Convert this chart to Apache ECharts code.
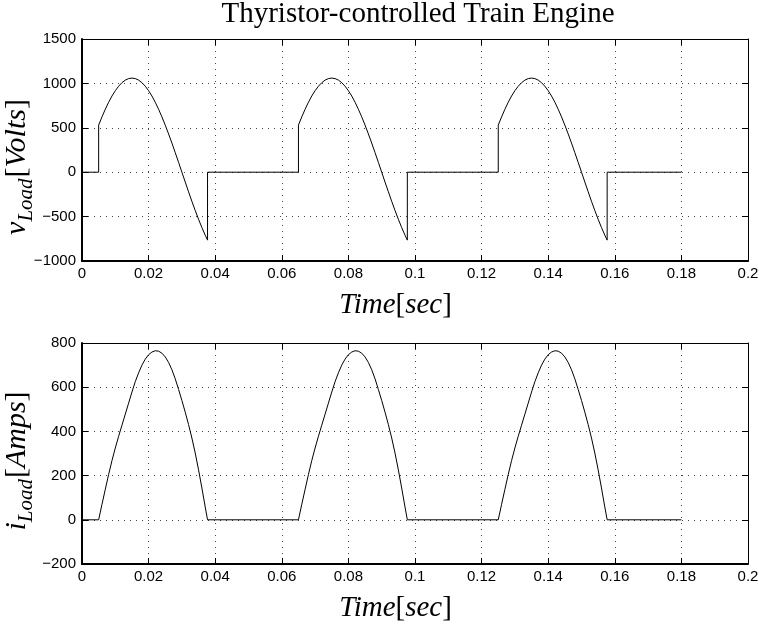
<!DOCTYPE html>
<html>
<head>
<meta charset="utf-8">
<script src="https://cdn.jsdelivr.net/npm/echarts@6/dist/echarts.min.js"></script>
<style>
  html, body { margin: 0; padding: 0; background: #fff; }
  #chart { width: 759px; height: 624px; }
</style>
</head>
<body>
<div id="chart"></div>
<script>
// Load voltage samples (time in seconds, volts); repeated time = thyristor switching edge
const vTime = [
  0, 0.005, 0.005, 0.006, 0.007, 0.008, 0.009, 0.010, 0.011, 0.012, 0.013, 0.014, 0.015,
  0.016, 0.017, 0.018, 0.019, 0.020, 0.021, 0.022, 0.023, 0.024, 0.025, 0.026, 0.027,
  0.028, 0.029, 0.030, 0.031, 0.032, 0.033, 0.034, 0.035, 0.036, 0.037, 0.0377, 0.0377,
  0.065, 0.065, 0.066, 0.067, 0.068, 0.069, 0.070, 0.071, 0.072, 0.073, 0.074, 0.075,
  0.076, 0.077, 0.078, 0.079, 0.080, 0.081, 0.082, 0.083, 0.084, 0.085, 0.086, 0.087,
  0.088, 0.089, 0.090, 0.091, 0.092, 0.093, 0.094, 0.095, 0.096, 0.097, 0.0977, 0.0977,
  0.125, 0.125, 0.126, 0.127, 0.128, 0.129, 0.130, 0.131, 0.132, 0.133, 0.134, 0.135,
  0.136, 0.137, 0.138, 0.139, 0.140, 0.141, 0.142, 0.143, 0.144, 0.145, 0.146, 0.147,
  0.148, 0.149, 0.150, 0.151, 0.152, 0.153, 0.154, 0.155, 0.156, 0.157, 0.1577, 0.1577,
  0.180
];
const vLoad = [
  0, 0, 530, 623, 709, 788, 858, 918, 968, 1008, 1037, 1054, 1060,
  1054, 1037, 1008, 968, 918, 858, 788, 709, 623, 530, 431, 328,
  220, 111, 0, -111, -220, -328, -431, -530, -623, -709, -765, 0,
  0, 530, 623, 709, 788, 858, 918, 968, 1008, 1037, 1054, 1060,
  1054, 1037, 1008, 968, 918, 858, 788, 709, 623, 530, 431, 328,
  220, 111, 0, -111, -220, -328, -431, -530, -623, -709, -765, 0,
  0, 530, 623, 709, 788, 858, 918, 968, 1008, 1037, 1054, 1060,
  1054, 1037, 1008, 968, 918, 858, 788, 709, 623, 530, 431, 328,
  220, 111, 0, -111, -220, -328, -431, -530, -623, -709, -765, 0,
  0
];

// Load current samples (time in seconds, amps)
const iTime = [
  0, 0.005, 0.006, 0.007, 0.008, 0.009, 0.010, 0.011, 0.012, 0.013, 0.014, 0.015,
  0.016, 0.017, 0.018, 0.019, 0.020, 0.021, 0.022, 0.023, 0.024, 0.025, 0.026, 0.027,
  0.028, 0.029, 0.030, 0.031, 0.032, 0.033, 0.034, 0.035, 0.036, 0.037, 0.0377,
  0.065, 0.066, 0.067, 0.068, 0.069, 0.070, 0.071, 0.072, 0.073, 0.074, 0.075,
  0.076, 0.077, 0.078, 0.079, 0.080, 0.081, 0.082, 0.083, 0.084, 0.085, 0.086, 0.087,
  0.088, 0.089, 0.090, 0.091, 0.092, 0.093, 0.094, 0.095, 0.096, 0.097, 0.0977,
  0.125, 0.126, 0.127, 0.128, 0.129, 0.130, 0.131, 0.132, 0.133, 0.134, 0.135,
  0.136, 0.137, 0.138, 0.139, 0.140, 0.141, 0.142, 0.143, 0.144, 0.145, 0.146, 0.147,
  0.148, 0.149, 0.150, 0.151, 0.152, 0.153, 0.154, 0.155, 0.156, 0.157, 0.1577,
  0.180
];
const iLoad = [
  0, 0, 70, 138, 205, 268, 325, 378, 428, 478, 528, 578,
  625, 665, 700, 727, 747, 759, 765, 763, 754, 737, 712, 679,
  638, 590, 540, 487, 431, 370, 302, 226, 144, 58, 0,
  0, 70, 138, 205, 268, 325, 378, 428, 478, 528, 578,
  625, 665, 700, 727, 747, 759, 765, 763, 754, 737, 712, 679,
  638, 590, 540, 487, 431, 370, 302, 226, 144, 58, 0,
  0, 70, 138, 205, 268, 325, 378, 428, 478, 528, 578,
  625, 665, 700, 727, 747, 759, 765, 763, 754, 737, 712, 679,
  638, 590, 540, 487, 431, 370, 302, 226, 144, 58, 0,
  0
];

// Axis ranges
const timeRange = { min: 0, max: 0.2, interval: 0.02 };
const voltRange = { min: -1000, max: 1500, interval: 500 };
const ampRange = { min: -200, max: 800, interval: 200 };

const titleText = 'Thyristor-controlled Train Engine';
const xTitle = '{it|Time}{rm|[}{it|sec}{rm|]}';
const vTitle = '{it|v}{sub|Load}{rm|[}{it|Volts}{rm|]}';
const iTitle = '{it|i}{sub|Load}{rm|[}{it|Amps}{rm|]}';

const SANS = 'Liberation Sans, Arial, sans-serif';
const SERIF = 'Liberation Serif, Times New Roman, serif';

function fmtTick(v) {
  const s = String(parseFloat(Number(v).toFixed(6)));
  return s.replace('-', '\u2212');
}

// Rich styles for the math-style axis titles
const xRich = {
  it: { fontFamily: SERIF, fontStyle: 'italic', fontSize: 29, color: '#000', lineHeight: 32 },
  rm: { fontFamily: SERIF, fontSize: 29, color: '#000', lineHeight: 32 }
};
const yRich = {
  it: { fontFamily: SERIF, fontStyle: 'italic', fontSize: 30, fill: '#000', color: '#000', lineHeight: 32, verticalAlign: 'top' },
  rm: { fontFamily: SERIF, fontSize: 30, fill: '#000', color: '#000', lineHeight: 32, verticalAlign: 'top' },
  sub: { fontFamily: SERIF, fontStyle: 'italic', fontSize: 21, fill: '#000', color: '#000', lineHeight: 21, verticalAlign: 'top', padding: [13, 1, 0, 0] }
};

const gridDefs = [
  { left: 82, right: 11, top: 39, height: 222, containLabel: false, outerBoundsMode: 'none' },
  { left: 82, right: 11, top: 343, height: 221, containLabel: false, outerBoundsMode: 'none' }
];

function bottomX(gi, namePad) {
  return {
    type: 'value', gridIndex: gi, position: 'bottom',
    min: timeRange.min, max: timeRange.max, interval: timeRange.interval,
    name: xTitle,
    nameLocation: 'middle', nameGap: 28,
    nameTextStyle: { padding: namePad, rich: xRich },
    axisLine: { show: true, onZero: false, lineStyle: { color: '#000', width: 2 } },
    axisTick: { show: true, inside: true, length: 6, lineStyle: { color: '#000', width: 1 } },
    axisLabel: { show: true, margin: 5, color: '#000', fontFamily: SANS, fontSize: 15, formatter: fmtTick },
    splitLine: { show: true, lineStyle: { color: '#444', width: 1, type: [1, 5] } }
  };
}
function topX(gi) {
  return {
    type: 'value', gridIndex: gi, position: 'top',
    min: timeRange.min, max: timeRange.max, interval: timeRange.interval,
    axisLine: { show: true, onZero: false, lineStyle: { color: '#000', width: 1 } },
    axisTick: { show: true, inside: true, length: 6, lineStyle: { color: '#000', width: 1 } },
    axisLabel: { show: false },
    splitLine: { show: false }
  };
}
function leftY(gi, range) {
  return {
    type: 'value', gridIndex: gi, position: 'left',
    min: range.min, max: range.max, interval: range.interval,
    axisLine: { show: true, onZero: false, lineStyle: { color: '#000', width: 2 } },
    axisTick: { show: true, inside: true, length: 6, lineStyle: { color: '#000', width: 1 } },
    axisLabel: { show: true, margin: 6, color: '#000', fontFamily: SANS, fontSize: 15, formatter: fmtTick },
    splitLine: { show: true, lineStyle: { color: '#444', width: 1, type: [1, 5] } }
  };
}
function rightY(gi, range) {
  return {
    type: 'value', gridIndex: gi, position: 'right',
    min: range.min, max: range.max, interval: range.interval,
    axisLine: { show: true, onZero: false, lineStyle: { color: '#000', width: 1 } },
    axisTick: { show: true, inside: true, length: 6, lineStyle: { color: '#000', width: 1 } },
    axisLabel: { show: false },
    splitLine: { show: false }
  };
}

// Vertical (rotated) y-axis titles
function yTitle(text, cx, cy) {
  return {
    type: 'text', x: cx, y: cy, rotation: Math.PI / 2, silent: true,
    style: { text: text, rich: yRich, align: 'center', verticalAlign: 'middle', fill: '#000' }
  };
}

const zip = (xs, ys) => xs.map((x, k) => [x, ys[k]]);

const chart = echarts.init(document.getElementById('chart'), null, { renderer: 'canvas' });
chart.setOption({
  animation: false,
  backgroundColor: '#fff',
  title: {
    text: titleText, left: 418, top: 0, textAlign: 'center', padding: 0,
    textStyle: { fontFamily: SERIF, fontWeight: 'normal', fontSize: 29, color: '#000' }
  },
  grid: gridDefs,
  xAxis: [bottomX(0, [0, 39, 0, 0]), topX(0), bottomX(1, [0, 39, 0, 0]), topX(1)],
  yAxis: [leftY(0, voltRange), rightY(0, voltRange), leftY(1, ampRange), rightY(1, ampRange)],
  graphic: [yTitle(vTitle, 18.5, 167), yTitle(iTitle, 18.5, 461)],
  series: [
    {
      type: 'line', xAxisIndex: 0, yAxisIndex: 0, data: zip(vTime, vLoad),
      showSymbol: false, symbol: 'none', lineStyle: { color: '#000', width: 1 }
    },
    {
      type: 'line', xAxisIndex: 2, yAxisIndex: 2, data: zip(iTime, iLoad),
      showSymbol: false, symbol: 'none', lineStyle: { color: '#000', width: 1 }
    }
  ]
});
</script>
</body>
</html>
